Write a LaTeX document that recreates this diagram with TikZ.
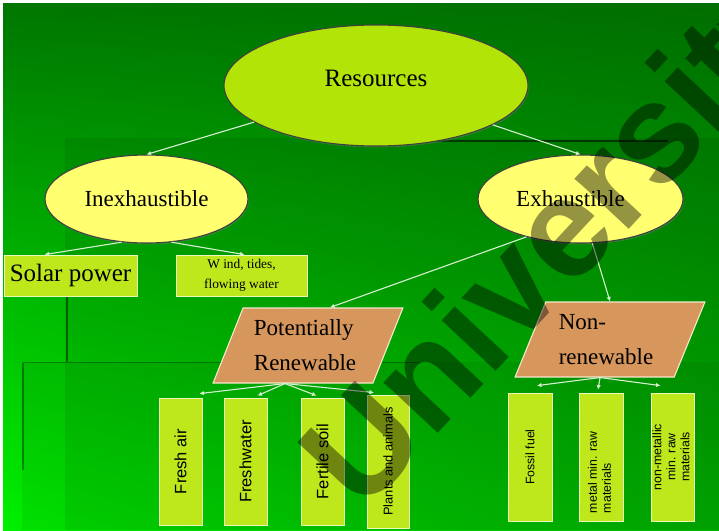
\documentclass[tikz,border=0pt]{standalone}
\usepackage{fontspec}
\setmainfont{Liberation Serif}
\newfontfamily\arialf{Liberation Sans}
\usetikzlibrary{shapes.geometric,arrows.meta,calc,shadows,shadings}
\definecolor{bgul}{RGB}{0,118,0}
\definecolor{bgur}{RGB}{0,110,0}
\definecolor{bgll}{RGB}{0,240,0}
\definecolor{bglr}{RGB}{0,185,0}
\definecolor{limebox}{RGB}{190,232,28}
\definecolor{resfill}{RGB}{178,228,8}
\definecolor{yelfill}{RGB}{255,255,112}
\definecolor{tanfill}{RGB}{214,150,92}
\definecolor{connc}{RGB}{215,240,210}
\begin{document}
\begin{tikzpicture}[x=1pt,y=-1pt,
  ellbase/.style={ellipse, inner sep=0pt, draw=black!75, line width=1.1pt, text=black,
     drop shadow={shadow xshift=1pt, shadow yshift=-1.5pt, opacity=0.35}},
  resell/.style={ellbase, fill=resfill, font=\fontsize{25}{30}\selectfont},
  subell/.style={ellbase, fill=yelfill, font=\fontsize{23}{28}\selectfont},
  leafbox/.style={rectangle, inner sep=0pt, fill=limebox, draw={rgb,255:red,235;green,248;blue,190}, line width=0.8pt,
     drop shadow={shadow xshift=1.2pt, shadow yshift=-1.2pt, opacity=0.4}},
  parbox/.style={trapezium, trapezium left angle=64, trapezium right angle=116, trapezium stretches=true,
     inner sep=0pt, fill=tanfill, draw={rgb,255:red,245;green,232;blue,205}, line width=1.1pt,
     minimum width=190pt, minimum height=75pt, font=\fontsize{23}{35}\selectfont, align=left},
  conn/.style={draw=connc, line width=1.1pt, -{Latex[length=4.5pt,width=4.5pt]}},
  vtxt/.style={font=\arialf\fontsize{16.5}{19}\selectfont},
  stxt/.style={font=\arialf\fontsize{12.3}{14}\selectfont},
  wmark/.style={font=\arialf\bfseries\fontsize{140}{150}\selectfont, text=black, text opacity=0.42, inner sep=0pt}
]
\useasboundingbox (0,0) rectangle (719,530);
% background
\fill[white] (0,0) rectangle (719,530);
\shade[upper left=bgul, upper right=bgur, lower left=bgll, lower right=bglr] (3,3) rectangle (719,530);
\fill[black, opacity=0.07] (65,138) rectangle (719,530);
\fill[black, opacity=0.06] (22,362) rectangle (719,530);
\draw[black, opacity=0.55, line width=1.2pt] (400,141) -- (668,141);
\draw[black, opacity=0.45, line width=1.2pt] (67,297) -- (67,362);
\draw[black, opacity=0.35, line width=1.2pt] (23,363) -- (23,470);
\draw[black, opacity=0.3, line width=1pt] (23,362) -- (420,362);

% nodes
\node[resell, minimum width=304pt, minimum height=121pt] (res) at (376,85.5) {\raisebox{14pt}{Resources}};
\node[subell, minimum width=203pt, minimum height=88pt] (inex) at (146.5,199) {\raisebox{-6pt}{Inexhaustible}};
\node[subell, minimum width=205pt, minimum height=88pt] (exh) at (580.5,199) {Exhaustible\hspace*{20pt}};

\node[leafbox, minimum width=133pt, minimum height=41pt, font=\fontsize{25}{30}\selectfont] (solar) at (70.5,275.5) {Solar power};
\node[leafbox, minimum width=131pt, minimum height=41pt, font=\fontsize{13.4}{20}\selectfont, align=center] (wind) at (241.5,275.5) {W ind, tides,\\flowing water};

\node[parbox] (pr) at (308,345.5) {Potentially\\Renewable\hspace*{6pt}};
\node[parbox] (nr) at (610,339.5) {Non-\\renewable\hspace*{8pt}};

\node[leafbox, minimum width=43pt, minimum height=127pt, vtxt] (fa) at (180.5,461.5) {\rotatebox{90}{Fresh air}};
\node[leafbox, minimum width=43pt, minimum height=127pt, vtxt] (fw) at (245.5,461.5) {\rotatebox{90}{Freshwater}};
\node[leafbox, minimum width=43pt, minimum height=127pt, vtxt] (fs) at (322.5,461.5) {\rotatebox{90}{Fertile soil}};
\node[leafbox, minimum width=42pt, minimum height=133pt, font=\arialf\fontsize{12.8}{15}\selectfont] (pa) at (388,461.5) {\rotatebox{90}{Plants and animals}};

\node[leafbox, minimum width=44pt, minimum height=128pt, stxt] (ff) at (530,457) {\rotatebox{90}{Fossil fuel}};
\node[leafbox, minimum width=44pt, minimum height=128pt, stxt] (mm) at (601,457) {\rotatebox{90}{\begin{tabular}{@{}l@{}}\makebox[112pt][l]{metal min. raw}\\materials\end{tabular}}};
\node[leafbox, minimum width=43pt, minimum height=128pt, stxt] (nm) at (672.5,457) {\rotatebox{90}{\begin{tabular}{@{}c@{}}non-metallic\\min. raw\\materials\end{tabular}}};

% connectors
\draw[conn] (res) -- (inex.north);
\draw[conn] (res) -- (exh.north);
\draw[conn] (inex.240) -- ($(solar.north)+(-26,0)$);
\draw[conn] (inex.300) -- ($(wind.north)+(3,0)$);
\draw[conn] (exh.215) -- ($(pr.north)+(22,0)$);
\draw[conn] (exh.285) -- (nr.north);
\coordinate (prb) at ($(pr.south)+(-23,0)$);
\draw[conn] (prb) -- ($(fa.north east)+(-3,-4)$);
\draw[conn] (prb) -- ($(fw.north)+(12,-2)$);
\draw[conn] (prb) -- ($(fs.north)+(-6,-2)$);
\draw[conn] (prb) -- ($(pa.north)+(-14,-2)$);
\coordinate (nrb) at ($(nr.south)+(-10,0)$);
\draw[conn] (nrb) -- ($(ff.north)+(7,-7)$);
\draw[conn] (nrb) -- ($(mm.north)+(-3,-3)$);
\draw[conn] (nrb) -- ($(nm.north)+(-12,-7)$);

% watermark
\begin{scope}
\clip (0,0) rectangle (719,530);
\node[wmark, rotate=47, anchor=base west] (wm) at (362,515) {University};
\end{scope}
\end{tikzpicture}
\end{document}
